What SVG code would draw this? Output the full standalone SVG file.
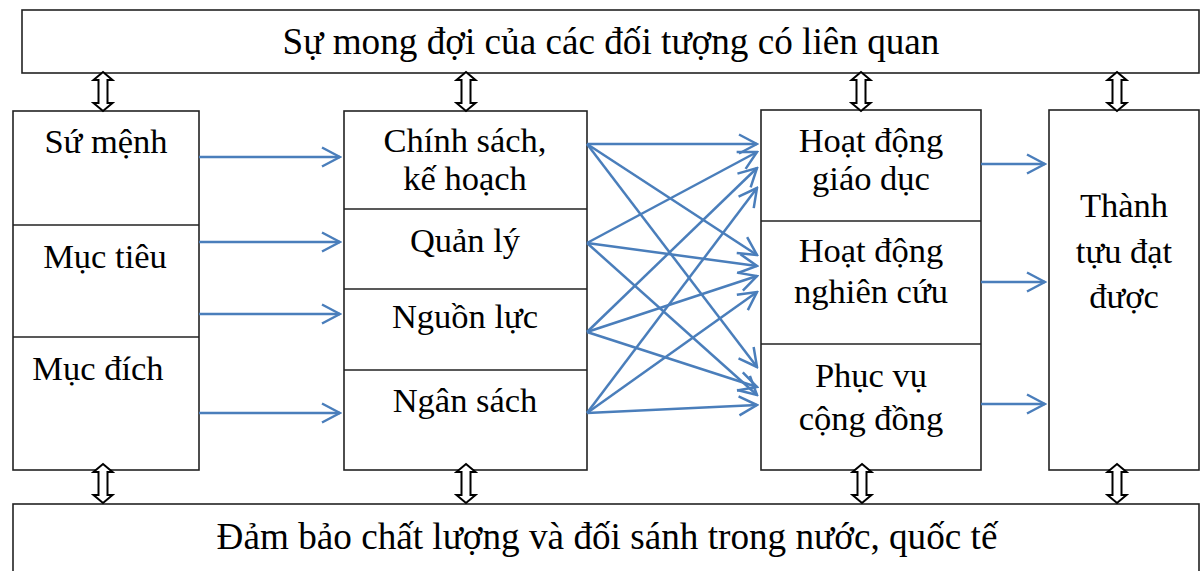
<svg xmlns="http://www.w3.org/2000/svg" width="1201" height="571" viewBox="0 0 1201 571">
<style>
.box{fill:#fff;stroke:#222;stroke-width:1.6}
.div{stroke:#222;stroke-width:1.6}
.t{font-family:"Liberation Serif","Times New Roman",serif;font-size:34.5px;fill:#000;text-anchor:middle}
.big{font-size:37.2px}
.c{stroke:#4A7EBB;stroke-width:2.5;fill:none;marker-end:url(#ah)}
.dbl{fill:#fff;stroke:#000;stroke-width:2;stroke-linejoin:miter}
</style>
<defs>
<marker id="ah" markerUnits="userSpaceOnUse" viewBox="-21 -11 23 22" markerWidth="23" markerHeight="22" refX="0" refY="0" orient="auto">
<path d="M-18,-9.5 L0,0 L-18,9.5" fill="none" stroke="#4A7EBB" stroke-width="2.5"/>
</marker>
<path id="da" d="M0,0 L9.5,8 L4.5,8 L4.5,31 L9.5,31 L0,39 L-9.5,31 L-4.5,31 L-4.5,8 L-9.5,8 Z"/>
</defs>

<g id="top-box">
<rect class="box" x="22" y="10" width="1177" height="63"/>
<text class="t big" x="611" y="54">Sự mong đợi của các đối tượng có liên quan</text>
</g>

<g id="bottom-box">
<rect class="box" x="13" y="504" width="1186" height="80"/>
<text class="t big" x="607" y="549">Đảm bảo chất lượng và đối sánh trong nước, quốc tế</text>
</g>

<g id="left-column">
<rect class="box" x="13" y="111" width="186" height="359"/>
<line class="div" x1="13" y1="225" x2="199" y2="225"/>
<line class="div" x1="13" y1="337" x2="199" y2="337"/>
<text class="t" x="106" y="153">Sứ mệnh</text>
<text class="t" x="105" y="268">Mục tiêu</text>
<text class="t" x="98" y="380">Mục đích</text>
</g>

<g id="middle-column">
<rect class="box" x="344" y="111" width="243" height="359"/>
<line class="div" x1="344" y1="209" x2="587" y2="209"/>
<line class="div" x1="344" y1="289" x2="587" y2="289"/>
<line class="div" x1="344" y1="370" x2="587" y2="370"/>
<text class="t" x="465" y="152">Chính sách,</text>
<text class="t" x="465" y="190">kế hoạch</text>
<text class="t" x="465" y="252">Quản lý</text>
<text class="t" x="465" y="328">Nguồn lực</text>
<text class="t" x="465" y="412">Ngân sách</text>
</g>

<g id="activity-column">
<rect class="box" x="761" y="110" width="220" height="360"/>
<line class="div" x1="761" y1="221" x2="981" y2="221"/>
<line class="div" x1="761" y1="344" x2="981" y2="344"/>
<text class="t" x="871" y="152">Hoạt động</text>
<text class="t" x="871" y="190">giáo dục</text>
<text class="t" x="871" y="262">Hoạt động</text>
<text class="t" x="871" y="303">nghiên cứu</text>
<text class="t" x="871" y="387">Phục vụ</text>
<text class="t" x="871" y="430">cộng đồng</text>
</g>

<g id="result-box">
<rect class="box" x="1049" y="110" width="150" height="360"/>
<text class="t" x="1124" y="217">Thành</text>
<text class="t" x="1124" y="263">tựu đạt</text>
<text class="t" x="1124" y="308">được</text>
</g>

<g id="connectors">
<line class="c" x1="199" y1="157" x2="340" y2="157"/>
<line class="c" x1="199" y1="242" x2="340" y2="242"/>
<line class="c" x1="199" y1="314" x2="340" y2="314"/>
<line class="c" x1="199" y1="413" x2="340" y2="413"/>

<line class="c" x1="587" y1="144" x2="757" y2="144"/>
<line class="c" x1="587" y1="144" x2="757" y2="255"/>
<line class="c" x1="587" y1="144" x2="757" y2="367"/>
<line class="c" x1="587" y1="243" x2="757" y2="152"/>
<line class="c" x1="587" y1="243" x2="757" y2="266"/>
<line class="c" x1="587" y1="243" x2="757" y2="395"/>
<line class="c" x1="587" y1="332" x2="757" y2="168"/>
<line class="c" x1="587" y1="332" x2="757" y2="276"/>
<line class="c" x1="587" y1="332" x2="757" y2="387"/>
<line class="c" x1="587" y1="413" x2="757" y2="188"/>
<line class="c" x1="587" y1="413" x2="757" y2="292"/>
<line class="c" x1="587" y1="413" x2="757" y2="405"/>

<line class="c" x1="981" y1="164" x2="1045" y2="164"/>
<line class="c" x1="981" y1="282" x2="1045" y2="282"/>
<line class="c" x1="981" y1="404" x2="1045" y2="404"/>

<use href="#da" class="dbl" transform="translate(103,72)"/>
<use href="#da" class="dbl" transform="translate(466,72)"/>
<use href="#da" class="dbl" transform="translate(861,72)"/>
<use href="#da" class="dbl" transform="translate(1117,72)"/>
<use href="#da" class="dbl" transform="translate(103,464)"/>
<use href="#da" class="dbl" transform="translate(466,464)"/>
<use href="#da" class="dbl" transform="translate(862,464)"/>
<use href="#da" class="dbl" transform="translate(1117,464)"/>
</g>
</svg>
